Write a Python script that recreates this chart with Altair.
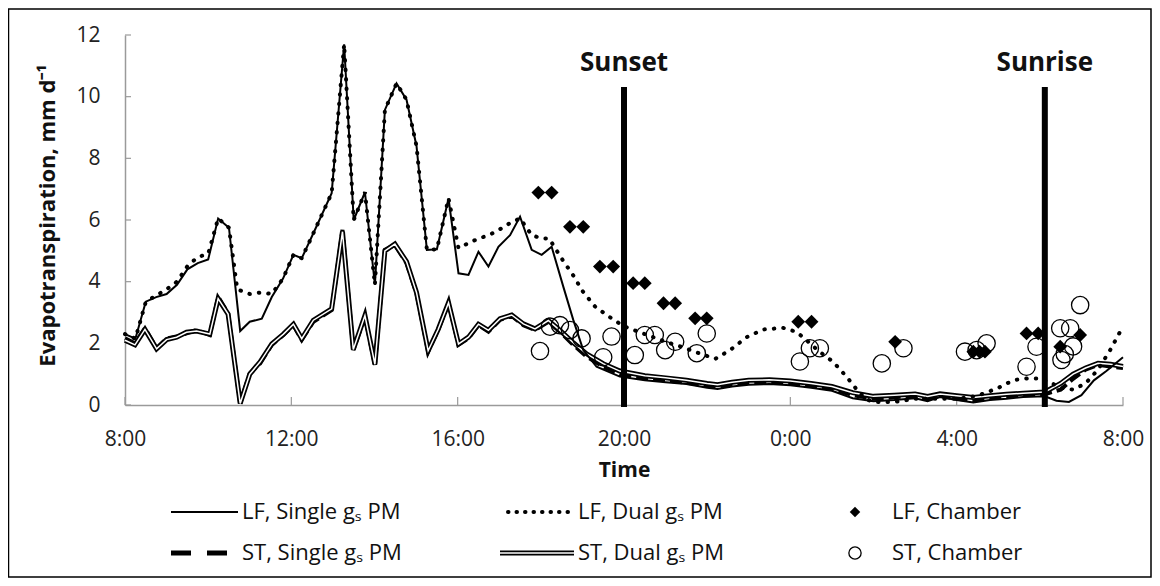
import altair as alt
import pandas as pd

# ---------------- data (hours after 8:00, ET in mm/d) ----------------
lf_single_h = [0, 0.25, 0.5, 0.75, 1.0, 1.25, 1.5, 1.75, 2.0, 2.24, 2.5, 2.77, 3.0, 3.29, 3.53, 3.8,
               4.05, 4.25, 4.53, 4.97, 5.27, 5.5, 5.77, 6.01, 6.25, 6.53, 6.77, 7.01, 7.26, 7.5, 7.78,
               8.02, 8.26, 8.5, 8.74, 8.98, 9.26, 9.5, 9.78, 10.02, 10.26, 10.54, 10.78, 11.02, 11.34,
               11.9, 12.5, 13.0, 13.5, 14.0, 14.25, 14.6, 15.0, 15.5, 16.0, 16.5, 17.0, 17.5, 18.0,
               18.5, 19.0, 19.3, 19.6, 20.0, 20.4, 20.8, 21.2, 21.6, 22.12, 22.4, 22.7, 23.0, 23.3,
               23.6, 24.0]
lf_single_v = [2.3, 2.15, 3.35, 3.5, 3.6, 3.9, 4.4, 4.6, 4.72, 6.05, 5.75, 2.4, 2.7, 2.8, 3.5, 4.1,
               4.87, 4.76, 5.57, 6.87, 11.7, 6.0, 6.9, 3.9, 9.57, 10.43, 9.9, 8.4, 5.03, 5.05, 6.7,
               4.27, 4.22, 4.97, 4.49, 5.13, 5.51, 6.11, 5.03, 4.87, 5.13, 3.84, 2.76, 1.78, 1.24,
               0.92, 0.8, 0.74, 0.68, 0.56, 0.52, 0.6, 0.66, 0.68, 0.64, 0.56, 0.46, 0.22, 0.12,
               0.16, 0.22, 0.12, 0.26, 0.16, 0.08, 0.16, 0.2, 0.26, 0.28, 0.14, 0.1, 0.32, 0.8,
               1.1, 1.55]

lf_dual_h = [0, 0.25, 0.5, 0.75, 1.0, 1.25, 1.5, 1.75, 2.0, 2.24, 2.5, 2.7, 3.0, 3.29, 3.53, 3.8,
             4.05, 4.25, 4.53, 4.97, 5.27, 5.5, 5.77, 6.01, 6.25, 6.53, 6.77, 7.01, 7.26, 7.5, 7.78,
             8.02, 8.26, 8.5, 8.74, 8.98, 9.26, 9.5, 9.78, 10.02, 10.2, 10.5, 10.78, 11.0, 11.3,
             11.6, 12.0, 12.3, 12.6, 13.0, 13.4, 13.8, 14.2, 14.55, 14.95, 15.35, 15.83, 16.15,
             16.39, 16.7, 17.03, 17.35, 17.6, 17.8, 18.0, 18.5, 19.0, 19.5, 20.0, 20.5, 21.0, 21.2,
             21.44, 21.7, 22.0, 22.3, 22.5, 22.8, 23.1, 23.4, 23.7, 24.0]
lf_dual_v = [2.3, 2.15, 3.35, 3.55, 3.75, 4.0, 4.5, 4.8, 4.9, 6.05, 5.75, 3.75, 3.6, 3.65, 3.6, 4.1,
             4.87, 4.76, 5.57, 6.87, 11.7, 6.0, 6.9, 3.9, 9.57, 10.43, 9.9, 8.4, 5.03, 5.05, 6.7,
             5.09, 5.25, 5.4, 5.5, 5.67, 5.9, 6.05, 5.51, 5.4, 5.4, 4.75, 4.2, 3.7, 3.2,
             2.9, 2.55, 2.4, 2.25, 2.05, 1.88, 1.68, 1.5, 1.78, 2.2, 2.45, 2.5, 2.37,
             2.1, 1.73, 1.4, 0.92, 0.5, 0.2, 0.1, 0.1, 0.2, 0.2, 0.2, 0.3, 0.55, 0.7,
             0.82, 0.86, 0.86, 0.7, 0.55, 0.5, 0.7, 1.15, 1.8, 2.55]

st_single_h = [0, 0.24, 0.48, 0.76, 1.0, 1.24, 1.48, 1.72, 2.04, 2.24, 2.48, 2.77, 3.0, 3.25, 3.53,
               3.81, 4.05, 4.25, 4.53, 4.97, 5.23, 5.49, 5.77, 6.01, 6.25, 6.49, 6.77, 7.01, 7.29,
               7.53, 7.78, 8.02, 8.26, 8.5, 8.74, 9.02, 9.3, 9.58, 9.86, 10.18, 10.46, 10.78, 11.1,
               11.5, 11.9, 12.5, 13.0, 13.5, 14.0, 14.25, 14.6, 15.0, 15.5, 16.0, 16.5, 17.0, 17.5,
               18.0, 18.5, 19.0, 19.3, 19.6, 20.0, 20.4, 20.8, 21.2, 21.6, 22.12, 22.5, 22.8, 23.1,
               23.4, 23.7, 24.0]
st_single_v = [2.16, 2.0, 2.49, 1.84, 2.16, 2.22, 2.32, 2.43, 2.27, 3.51, 2.97, 0.05, 1.03, 1.35, 1.95,
               2.27, 2.59, 2.11, 2.7, 3.08, 5.68, 1.78, 2.86, 1.3, 5.03, 5.19, 4.6, 3.62, 1.73,
               2.43, 3.3, 1.95, 2.16, 2.59, 2.38, 2.76, 2.89, 2.59, 2.43, 2.7, 2.38, 1.95, 1.57,
               1.24, 1.0, 0.86, 0.8, 0.72, 0.62, 0.58, 0.66, 0.72, 0.74, 0.7, 0.62, 0.52, 0.32,
               0.2, 0.25, 0.3, 0.2, 0.3, 0.2, 0.15, 0.22, 0.28, 0.32, 0.35, 0.5, 0.85, 1.15,
               1.3, 1.25, 1.2]

st_dual_h = [0, 0.24, 0.48, 0.76, 1.0, 1.24, 1.48, 1.72, 2.04, 2.24, 2.48, 2.77, 3.0, 3.25, 3.53,
             3.81, 4.05, 4.25, 4.53, 4.97, 5.23, 5.49, 5.77, 6.01, 6.25, 6.49, 6.77, 7.01, 7.29,
             7.53, 7.78, 8.02, 8.26, 8.5, 8.74, 9.02, 9.3, 9.58, 9.86, 10.18, 10.46, 10.78, 11.1,
             11.5, 11.9, 12.5, 13.0, 13.5, 14.0, 14.25, 14.6, 15.0, 15.5, 16.0, 16.5, 17.0, 17.5,
             18.0, 18.5, 19.0, 19.3, 19.6, 20.0, 20.4, 20.8, 21.2, 21.6, 22.12, 22.5, 22.8, 23.1,
             23.4, 23.7, 24.0]
st_dual_v = [2.1, 1.95, 2.45, 1.82, 2.12, 2.2, 2.36, 2.4, 2.3, 3.45, 2.95, 0.05, 1.0, 1.4, 1.98,
             2.3, 2.62, 2.15, 2.75, 3.12, 5.62, 1.8, 2.9, 1.32, 5.0, 5.22, 4.65, 3.65, 1.76,
             2.45, 3.32, 1.98, 2.2, 2.62, 2.42, 2.8, 2.92, 2.63, 2.47, 2.74, 2.42, 2.02, 1.66,
             1.34, 1.1, 0.95, 0.88, 0.8, 0.7, 0.66, 0.74, 0.8, 0.82, 0.78, 0.7, 0.6, 0.4,
             0.28, 0.32, 0.36, 0.28, 0.36, 0.3, 0.24, 0.3, 0.35, 0.38, 0.42, 0.7, 1.0, 1.2,
             1.35, 1.32, 1.25]

lf_chamber_h = [9.94, 10.26, 10.7, 11.02, 11.42, 11.74, 12.22, 12.5, 12.95, 13.23, 13.71, 13.99,
                16.19, 16.51, 18.52, 20.4, 20.55, 20.68, 21.68, 21.96, 22.49, 22.97]
lf_chamber_v = [6.89, 6.89, 5.78, 5.78, 4.49, 4.49, 3.95, 3.95, 3.3, 3.3, 2.81, 2.81,
                2.7, 2.7, 2.05, 1.73, 1.73, 1.73, 2.32, 2.32, 1.89, 2.27]

st_chamber_h = [9.98, 10.22, 10.46, 10.7, 10.98, 11.5, 11.7, 12.26, 12.5, 12.74, 12.99, 13.23, 13.75,
                13.99, 16.23, 16.47, 16.71, 18.2, 18.72, 20.2, 20.48, 20.72, 21.68, 21.92, 22.49,
                22.52, 22.6, 22.73, 22.8, 22.97]
st_chamber_v = [1.75, 2.54, 2.59, 2.43, 2.16, 1.55, 2.22, 1.62, 2.27, 2.27, 1.78, 2.05, 1.68,
                2.32, 1.41, 1.84, 1.84, 1.35, 1.84, 1.73, 1.78, 2.0, 1.24, 1.89, 2.49,
                1.46, 1.65, 2.49, 1.9, 3.24]

event_names = ["Sunset", "Sunrise"]
event_h = [12.0, 22.12]

x_ticks = [0, 4, 8, 12, 16, 20, 24]
y_ticks = [0, 2, 4, 6, 8, 10, 12]

FONT = "Open Sans"

# ---------------- helpers ----------------
x_axis = alt.Axis(values=x_ticks, labelExpr="((8 + datum.value) % 24) + ':00'", title="Time",
                  ticks=False, tickSize=0, grid=False, domainColor="#9a9a9a", domainWidth=1.5,
                  labelFont=FONT, labelFontSize=21, labelColor="#222", labelPadding=23,
                  labelFlush=False, labelOverlap=False,
                  titleFont=FONT, titleFontSize=21, titleFontWeight="bold", titleColor="#111",
                  titleX=499, titleY=65, titleBaseline="middle", titleAlign="center")
y_axis = alt.Axis(values=y_ticks, title="Evapotranspiration, mm d\u207b\u00b9",
                  ticks=False, tickSize=0, grid=False, domainColor="#9a9a9a", domainWidth=1.5,
                  labelFont=FONT, labelFontSize=21, labelColor="#222", labelPadding=25,
                  titleFont=FONT, titleFontSize=22, titleFontWeight="bold", titleColor="#111",
                  titleAngle=270, titleX=-78, titleY=180, titleBaseline="middle", titleAlign="center")


def X(field="h"):
    return alt.X(f"{field}:Q", scale=alt.Scale(domain=[0, 24], nice=False, zero=False), axis=x_axis)


def Y(field="v"):
    return alt.Y(f"{field}:Q", scale=alt.Scale(domain=[0, 12], nice=False, zero=True), axis=y_axis)


def df(h, v):
    return pd.DataFrame({"h": h, "v": v})


one = pd.DataFrame({"k": [0]})

# ---------------- series ----------------
st_single = alt.Chart(df(st_single_h, st_single_v)).mark_line(
    color="black", strokeWidth=4, strokeDash=[12, 5]).encode(x=X(), y=Y())
st_dual_o = alt.Chart(df(st_dual_h, st_dual_v)).mark_line(
    color="black", strokeWidth=5).encode(x=X(), y=Y())
st_dual_i = alt.Chart(df(st_dual_h, st_dual_v)).mark_line(
    color="white", strokeWidth=1.5).encode(x=X(), y=Y())
lf_dual = alt.Chart(df(lf_dual_h, lf_dual_v)).mark_line(
    color="black", strokeWidth=4, strokeDash=[0.5, 9], strokeCap="round").encode(x=X(), y=Y())
lf_single = alt.Chart(df(lf_single_h, lf_single_v)).mark_line(
    color="black", strokeWidth=2).encode(x=X(), y=Y())
lf_ch = alt.Chart(df(lf_chamber_h, lf_chamber_v)).mark_point(
    shape="diamond", filled=True, size=190, color="black", opacity=1).encode(x=X(), y=Y())
st_ch = alt.Chart(df(st_chamber_h, st_chamber_v)).mark_point(
    shape="circle", filled=False, size=300, color="black", strokeWidth=1.3, opacity=1).encode(x=X(), y=Y())

ev = pd.DataFrame({"h": event_h, "name": event_names})
ev_rule = alt.Chart(ev).mark_rule(color="black", strokeWidth=6).encode(
    x=X(), y=alt.value(52), y2=alt.value(372))
ev_text = alt.Chart(ev).mark_text(font=FONT, fontSize=26, fontWeight="bold", baseline="middle",
                                  color="#111").encode(x=X(), y=alt.value(28), text="name:N")

# inward ticks
xt = alt.Chart(pd.DataFrame({"h": x_ticks})).mark_rule(color="#9a9a9a", strokeWidth=1.2).encode(
    x=X(), y=alt.value(370), y2=alt.value(362))
yt = alt.Chart(pd.DataFrame({"v": y_ticks})).mark_rule(color="#9a9a9a", strokeWidth=1.2).encode(
    y=Y(), x=alt.value(0), x2=alt.value(6))

# ---------------- legend ----------------
R1, R2 = 477, 518
C1a, C1b, C1t = 46, 113, 117
C2a, C2b, C2t = 375, 449, 453
C3m, C3t = 730, 767


def leg_text(txt, x, y):
    return alt.Chart(one).mark_text(font=FONT, fontSize=22, align="left", baseline="middle",
                                    color="#111").encode(x=alt.value(x), y=alt.value(y), text=alt.value(txt))


legend = [
    alt.Chart(one).mark_rule(color="black", strokeWidth=2).encode(
        x=alt.value(C1a), x2=alt.value(C1b), y=alt.value(R1)),
    leg_text("LF, Single g\u209b PM", C1t, R1),
    alt.Chart(one).mark_rule(color="black", strokeWidth=5, strokeDash=[20, 16]).encode(
        x=alt.value(C1a), x2=alt.value(C1a + 58), y=alt.value(R2)),
    leg_text("ST, Single g\u209b PM", C1t, R2),
    alt.Chart(one).mark_rule(color="black", strokeWidth=4, strokeDash=[0.5, 8], strokeCap="round").encode(
        x=alt.value(C2a + 8), x2=alt.value(C2b), y=alt.value(R1)),
    leg_text("LF, Dual  g\u209b PM", C2t, R1),
    alt.Chart(one).mark_rule(color="black", strokeWidth=5).encode(
        x=alt.value(C2a), x2=alt.value(C2b), y=alt.value(R2)),
    alt.Chart(one).mark_rule(color="white", strokeWidth=1.5).encode(
        x=alt.value(C2a), x2=alt.value(C2b), y=alt.value(R2)),
    leg_text("ST, Dual  g\u209b PM", C2t, R2),
    alt.Chart(one).mark_point(shape="diamond", filled=True, size=110, color="black", opacity=1).encode(
        x=alt.value(C3m), y=alt.value(R1)),
    leg_text("LF, Chamber", C3t, R1),
    alt.Chart(one).mark_point(shape="circle", filled=False, size=150, color="black", strokeWidth=1.3,
                              opacity=1).encode(x=alt.value(C3m), y=alt.value(R2)),
    leg_text("ST, Chamber", C3t, R2),
]

frame = alt.Chart(one).mark_rect(fillOpacity=0, stroke="black", strokeWidth=1.5).encode(
    x=alt.value(-116.5), x2=alt.value(1026), y=alt.value(-26), y2=alt.value(542))

chart = alt.layer(
    xt, yt, st_single, st_dual_o, st_dual_i, lf_dual, lf_single, st_ch, lf_ch, ev_rule, ev_text,
    *legend, frame
).properties(
    width=998, height=370,
    padding={"left": 117, "top": 27, "right": 29, "bottom": 173},
    autosize=alt.AutoSizeParams(type="none"),
    background="white",
).configure_view(strokeWidth=0)

chart.save("out.html", embed_options={"renderer": "svg", "actions": False})
